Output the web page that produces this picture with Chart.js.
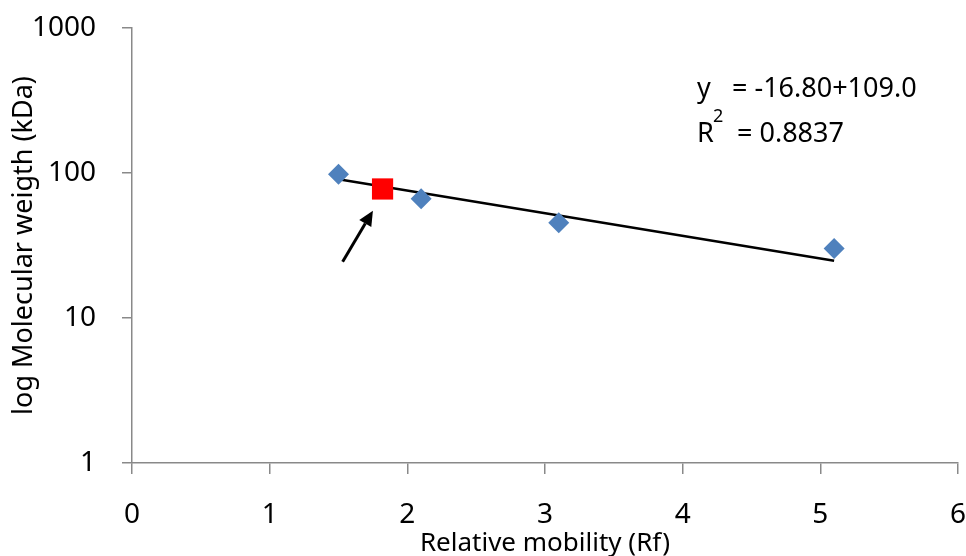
<!DOCTYPE html>
<html>
<head>
<meta charset="utf-8">
<script src="https://cdn.jsdelivr.net/npm/chart.js@4/dist/chart.umd.min.js"></script>
<style>
html,body{margin:0;padding:0;background:#fff;}
#wrap{width:966px;height:556px;}
</style>
</head>
<body>
<div id="wrap"><canvas id="c" width="966" height="556"></canvas></div>
<script>
// Data
const markerX = [1.5, 2.1, 3.1, 5.1];
const markerY = [98, 66.5, 45.4, 30.2];
const unknownX = [1.82];
const unknownY = [77.6];
const trendX = [1.5, 5.1];
const trendY = [90.5, 24.8];
const arrowFrom = [1.53, 24.4];
const arrowTo = [1.75, 55];
const yTickValues = [1, 10, 100, 1000];
const yTickLabels = ['1', '10', '100', '1000'];
const xTickValues = [0, 1, 2, 3, 4, 5, 6];
const eqLine1 = ['y', '= -16.80+109.0'];
const eqLine2 = ['R', '2', '= 0.8837'];

const FONT = '"Noto Sans", sans-serif';
const axisColor = '#898989';
const PLOT_RIGHT = 958;

const fixRight = {
  id: 'fixRight',
  afterLayout(chart) {
    const x = chart.scales.x;
    x.right = PLOT_RIGHT;
    x.width = PLOT_RIGHT - x.left;
    x.configure();
    chart.chartArea.right = PLOT_RIGHT;
    chart.chartArea.width = PLOT_RIGHT - chart.chartArea.left;
  }
};

const overlay = {
  id: 'overlay',
  afterDatasetsDraw(chart) {
    const ctx = chart.ctx, xs = chart.scales.x, ys = chart.scales.y;
    // arrow
    const x1 = xs.getPixelForValue(arrowFrom[0]), y1 = ys.getPixelForValue(arrowFrom[1]);
    const x2 = xs.getPixelForValue(arrowTo[0]), y2 = ys.getPixelForValue(arrowTo[1]);
    const ang = Math.atan2(y2 - y1, x2 - x1);
    const hl = 15, hw = 7;
    ctx.save();
    ctx.strokeStyle = '#000'; ctx.fillStyle = '#000'; ctx.lineWidth = 3;
    ctx.beginPath();
    ctx.moveTo(x1, y1);
    ctx.lineTo(x2 - hl * Math.cos(ang), y2 - hl * Math.sin(ang));
    ctx.stroke();
    ctx.beginPath();
    ctx.moveTo(x2, y2);
    ctx.lineTo(x2 - hl * Math.cos(ang) + hw * Math.sin(ang), y2 - hl * Math.sin(ang) - hw * Math.cos(ang));
    ctx.lineTo(x2 - hl * Math.cos(ang) - hw * Math.sin(ang), y2 - hl * Math.sin(ang) + hw * Math.cos(ang));
    ctx.closePath(); ctx.fill();
    // equation text
    ctx.fillStyle = '#000';
    ctx.textBaseline = 'alphabetic';
    ctx.textAlign = 'left';
    ctx.font = '27px ' + FONT;
    ctx.fillText(eqLine1[0], 697, 97);
    ctx.fillText(eqLine1[1], 732, 97);
    ctx.fillText(eqLine2[0], 697, 142);
    ctx.fillText(eqLine2[2], 737, 142);
    ctx.font = '18px ' + FONT;
    ctx.fillText(eqLine2[1], 713, 122);
    ctx.restore();
  }
};

new Chart(document.getElementById('c'), {
  type: 'scatter',
  data: {
    datasets: [
      {
        type: 'line',
        data: trendX.map((x, i) => ({x, y: trendY[i]})),
        borderColor: '#000', borderWidth: 2.5, pointRadius: 0, fill: false, order: 3
      },
      {
        data: markerX.map((x, i) => ({x, y: markerY[i]})),
        pointStyle: 'rectRot', pointRadius: 10.5, backgroundColor: '#4F81BD', borderColor: '#4F81BD', borderWidth: 0, order: 1
      },
      {
        data: unknownX.map((x, i) => ({x, y: unknownY[i]})),
        pointStyle: 'rect', pointRadius: 15, backgroundColor: '#FF0000', borderColor: '#FF0000', borderWidth: 0, order: 0
      }
    ]
  },
  options: {
    responsive: false,
    animation: false,
    devicePixelRatio: 1,
    layout: { padding: { left: 0, right: 8, top: 28, bottom: 0 } },
    plugins: { legend: { display: false }, tooltip: { enabled: false } },
    scales: {
      x: {
        type: 'linear', min: 0, max: 6,
        afterFit(s) { s.height = 93; s.paddingLeft = 0; s.paddingRight = 0; },
        afterBuildTicks(s) { s.ticks = xTickValues.map(v => ({value: v})); },
        grid: { drawOnChartArea: false, tickLength: 11, color: axisColor, lineWidth: 1.5 },
        border: { color: axisColor, width: 1.5 },
        ticks: { color: '#000', padding: 24, maxRotation: 0, font: { family: FONT, size: 28, lineHeight: 1.2 } },
        title: { display: true, text: 'Relative mobility (Rf)', color: '#000', padding: 0,
          font: { family: FONT, size: 26, lineHeight: 0.95 } }
      },
      y: {
        type: 'logarithmic', min: 1, max: 1000,
        afterFit(s) { s.width = 132; s.paddingTop = 0; s.paddingBottom = 0; },
        afterBuildTicks(s) { s.ticks = yTickValues.map(v => ({value: v})); },
        grid: { drawOnChartArea: false, tickLength: 10, color: axisColor, lineWidth: 1.5 },
        border: { color: axisColor, width: 1.5 },
        ticks: { color: '#000', padding: 26, font: { family: FONT, size: 28 },
          callback: (v) => { const i = yTickValues.indexOf(v); return i >= 0 ? yTickLabels[i] : ''; } },
        title: { display: true, text: 'log Molecular weigth (kDa)', color: '#000', padding: { top: 8, bottom: 0 },
          font: { family: FONT, size: 27, lineHeight: 1.2 } }
      }
    }
  },
  plugins: [fixRight, overlay]
});
</script>
</body>
</html>
